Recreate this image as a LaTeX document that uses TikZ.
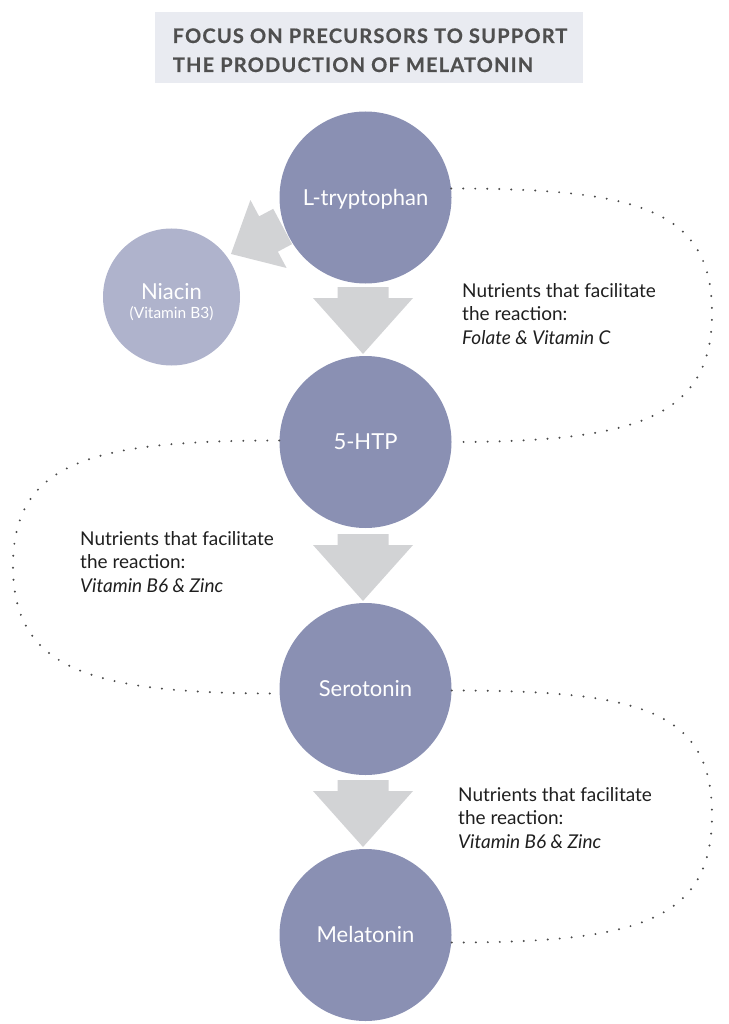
\documentclass[tikz,border=0pt]{standalone}
\usepackage{fontspec}
\setmainfont{Lato}
\newfontfamily\titlefont[LetterSpace=6, BoldFeatures={FakeBold=0.6}]{Lato}
\definecolor{circ}{HTML}{8A90B3}
\definecolor{niac}{HTML}{AFB3CC}
\definecolor{arrowgray}{HTML}{D2D3D5}
\definecolor{titlebg}{HTML}{E9EBF1}
\definecolor{titletext}{HTML}{4F4F4F}
\definecolor{dotgray}{HTML}{4A4A4A}
\definecolor{bodytext}{HTML}{1E1E1E}
\tikzset{
  bigcircle/.style={circle, fill=circ, minimum size=172pt, inner sep=0pt,
    text=white, font=\fontsize{22}{26}\selectfont, text height=15.5pt, text depth=0pt},
  smallcircle/.style={circle, fill=niac, minimum size=137pt, inner sep=0pt},
  niaclabel/.style={anchor=base, inner sep=0pt, text=white},
  bodyline/.style={anchor=base west, inner sep=0pt, text=bodytext, font=\fontsize{19}{23}\selectfont},
  titleline/.style={anchor=base, inner sep=0pt, text=titletext, font=\titlefont\bfseries\fontsize{20}{24}\selectfont},
  titlebox/.style={rectangle, fill=titlebg, minimum width=428pt, minimum height=71pt, inner sep=0pt},
  dotline/.style={draw=dotgray, line width=2.2pt, line cap=round, dash pattern=on 0pt off 12pt},
  pics/downarrow/.style={code={
    \fill[arrowgray] (-25.5,0) -- (25.5,0) -- (25.5,11) -- (50,11) -- (0,67) -- (-50,11) -- (-25.5,11) -- cycle;}},
  pics/sidearrow/.style={code={
    \fill[arrowgray] (-16,-20) -- (0,-20) -- (0,-38.5) -- (42.5,0) -- (0,38.5) -- (0,20) -- (-16,20) -- cycle;}}
}
\begin{document}
\begin{tikzpicture}[x=1pt,y=-1pt]
\useasboundingbox (0,0) rectangle (728,1024);
% title
\node[titlebox] (tbox) at (369,47.5) {};
\node[titleline] (title1) at (370,43) {FOCUS ON PRECURSORS TO SUPPORT};
\node[titleline] (title2) at (353,72) {THE PRODUCTION OF MELATONIN};
% block arrows
\pic (arrA) at (363,287) {downarrow};
\pic (arrB) at (363,534) {downarrow};
\pic (arrC) at (363,780) {downarrow};
\pic[rotate=208] (arrN) at (268.5,234) {sidearrow};
% circles
\node[bigcircle] (ltrp) at (365.5,197.5) {L-tryptophan};
\node[bigcircle] (htp) at (365.5,442) {5-HTP};
\node[bigcircle] (ser) at (365.5,689) {Serotonin};
\node[bigcircle] (mel) at (365.5,935) {Melatonin};
\node[smallcircle] (niacin) at (171.5,297) {};
\node[niaclabel, font=\fontsize{22}{26}\selectfont] (niacinL) at (171.5,299) {Niacin};
\node[niaclabel, font=\fontsize{15.5}{18}\selectfont] (niacinV) at (171.5,318) {(Vitamin B3)};
% dotted loops
\coordinate (r1) at (712,313);
\coordinate (l2) at (13,566);
\coordinate (r3) at (712,815);
\draw[dotline] (ltrp.6) .. controls +(188,0) and +(0,-103) .. (r1)
  .. controls +(0,103) and +(188,0) .. (htp.0);
\draw[dotline] (htp.179) .. controls +(-188,0) and +(0,-104) .. (l2)
  .. controls +(0,104) and +(-188,0) .. (ser.183);
\draw[dotline] (ser.359) .. controls +(188,0) and +(0,-105) .. (r3)
  .. controls +(0,105) and +(188,0) .. (mel.-5);
% nutrient texts
\node[bodyline] (n1a) at (462,297) {Nutrients that facilitate};
\node[bodyline] (n1b) at (462,320.5) {the reaction:};
\node[bodyline] (n1c) at (462,344) {\itshape Folate \& Vitamin C};
\node[bodyline] (n2a) at (80,545) {Nutrients that facilitate};
\node[bodyline] (n2b) at (80,568.5) {the reaction:};
\node[bodyline] (n2c) at (80,592) {\itshape Vitamin B6 \& Zinc};
\node[bodyline] (n3a) at (458,801) {Nutrients that facilitate};
\node[bodyline] (n3b) at (458,824.5) {the reaction:};
\node[bodyline] (n3c) at (458,848) {\itshape Vitamin B6 \& Zinc};
\end{tikzpicture}
\end{document}
